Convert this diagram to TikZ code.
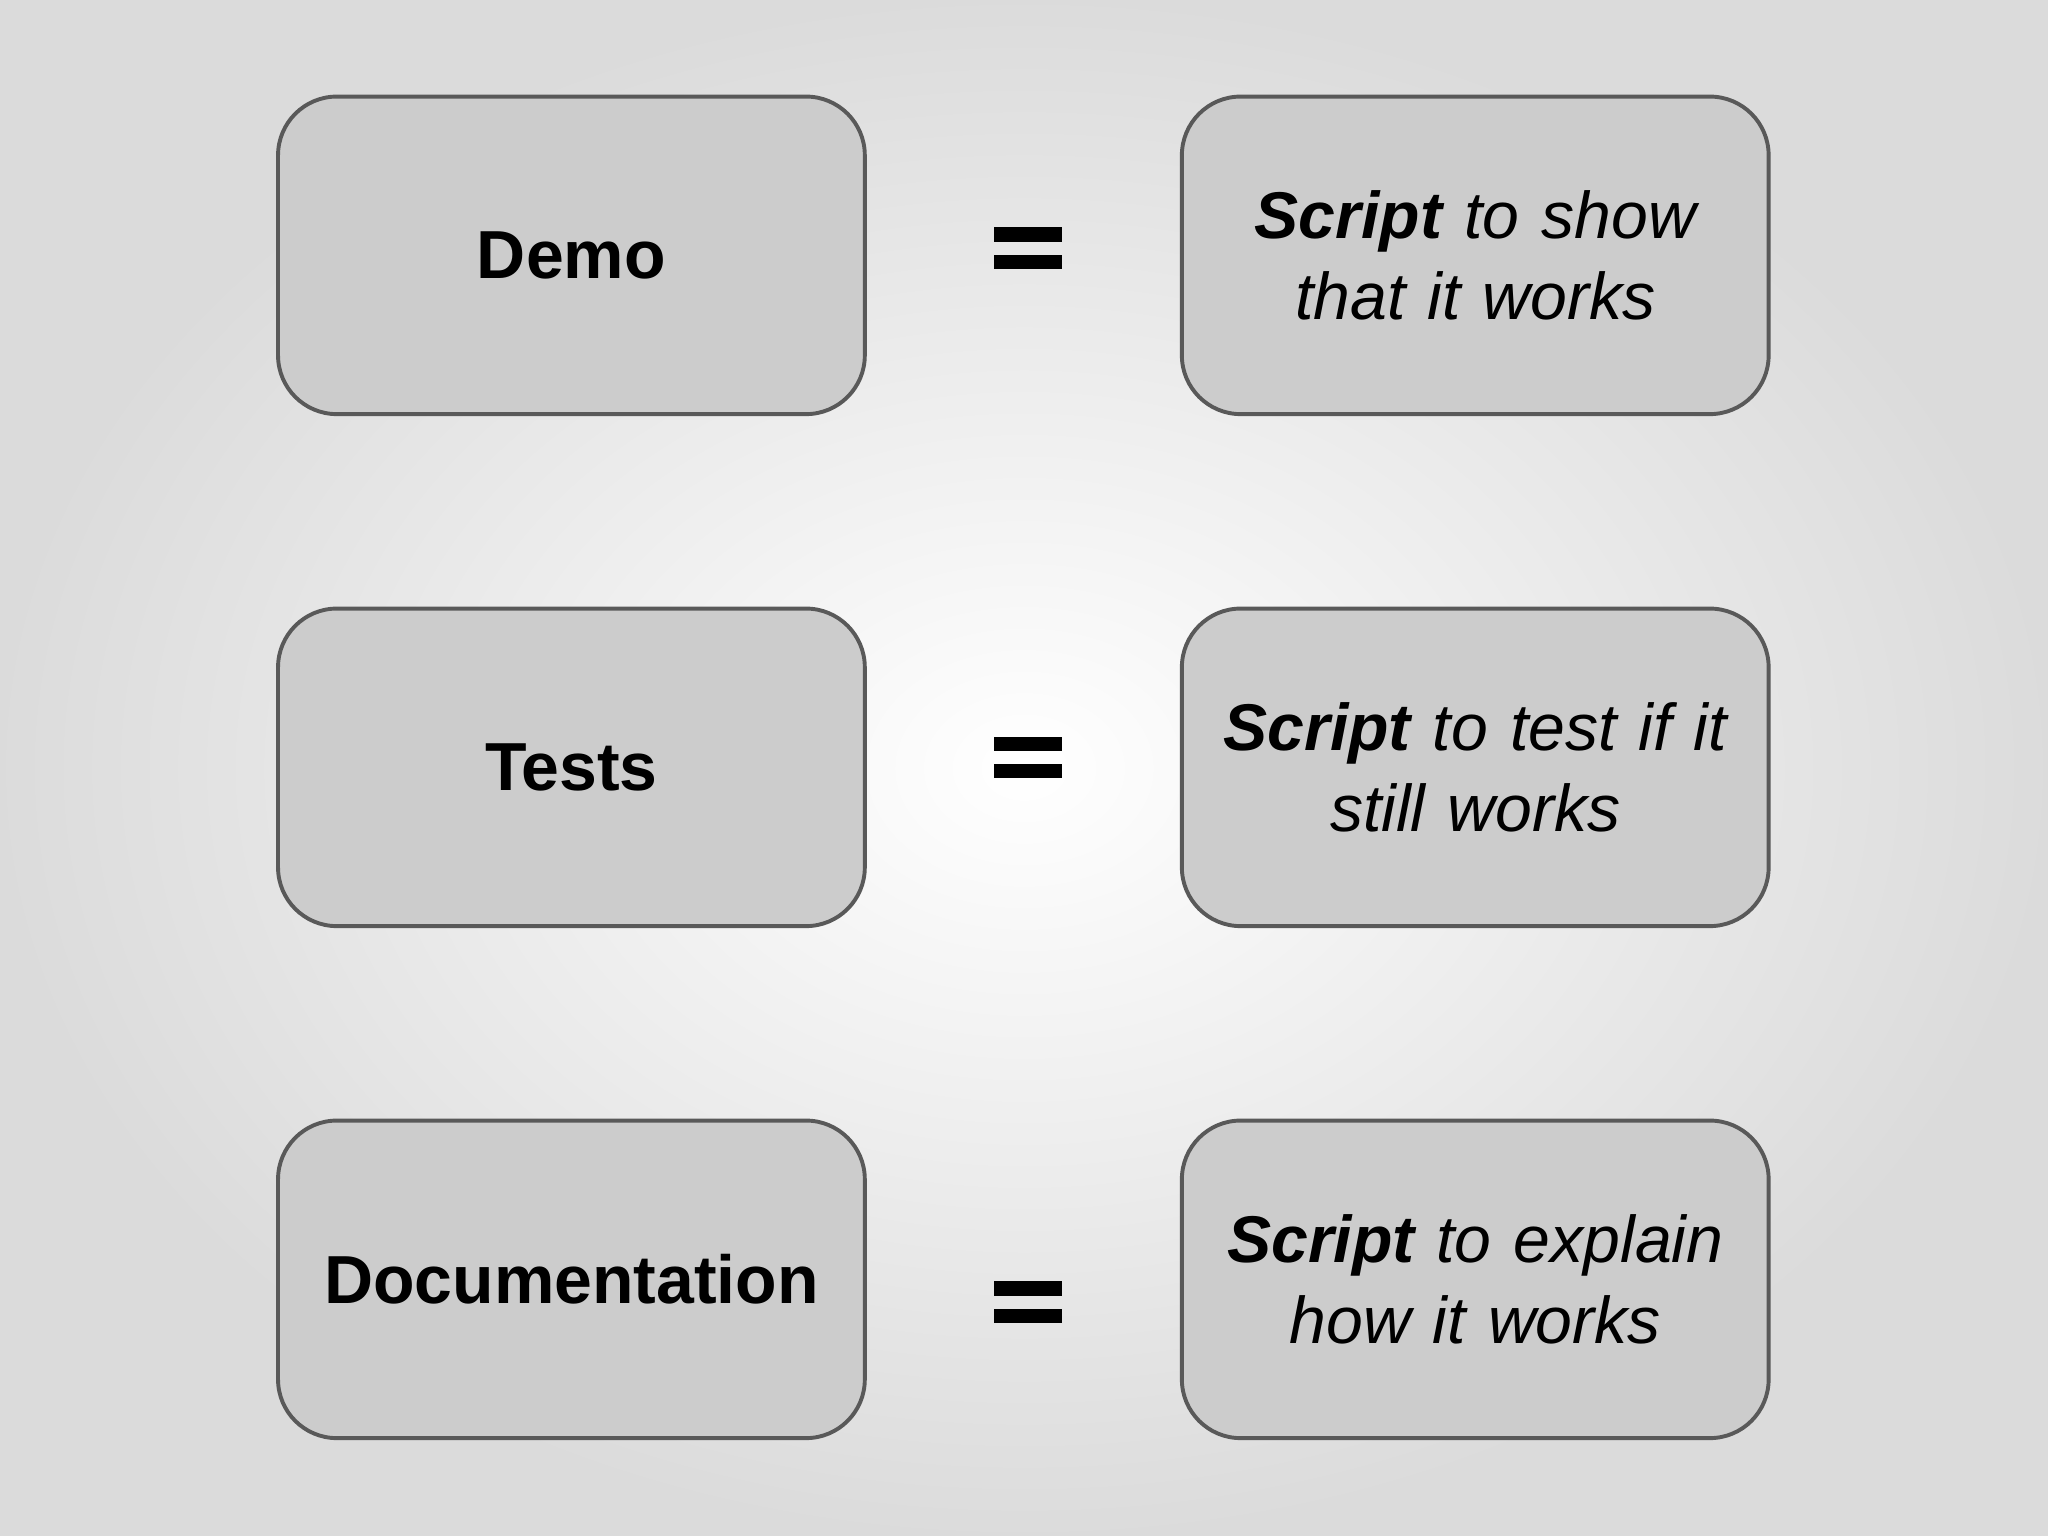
\documentclass[tikz,border=0pt]{standalone}
\usepackage{fontspec}
\setmainfont{Liberation Sans}
\begin{document}
\begin{tikzpicture}[x=0.01cm,y=-0.01cm,
  box/.style={draw=black!65,fill=black!20,line width=0.85pt,rounded corners=0.45cm,minimum width=4.49cm,minimum height=2.43cm,inner sep=0pt,align=center,text width=4.4cm},
  lbl/.style={font=\fontsize{14.8}{17}\selectfont\bfseries},
  rt/.style={font=\fontsize{14.4}{17.6}\selectfont\itshape},
  eqbar/.style={fill=black,draw=none}]
\shade[inner color=white,outer color=black!14] (0,0) rectangle (1568,1176);
\useasboundingbox (0,0) rectangle (1568,1176);
\foreach \y/\n/\t/\r/\e in {
  74/a/Demo/{\textbf{Script} to show\\that it works}/190,
  466/b/Tests/{\textbf{Script} to test if it\\still works}/580,
  858/c/Documentation/{\textbf{Script} to explain\\how it works}/997}{
  \node[box,lbl] (\n l) at (437.5,\y+121.5) {\t};
  \node[box,rt] (\n r) at (1129.5,\y+121.5) {\r};
  \fill[eqbar] (761,\e-16) rectangle (813,\e-5);
  \fill[eqbar] (761,\e+5) rectangle (813,\e+16);
}
\end{tikzpicture}
\end{document}
